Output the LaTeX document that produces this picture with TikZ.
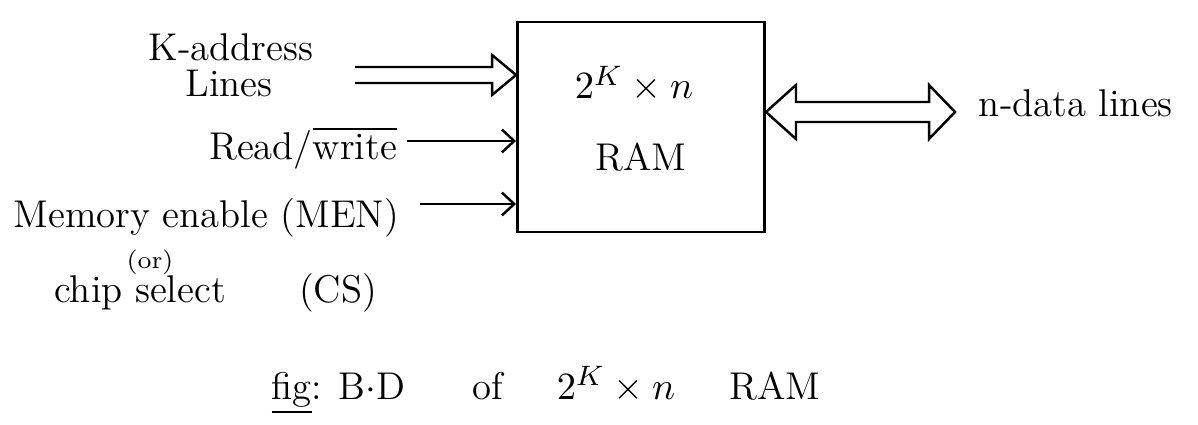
\documentclass[tikz,border=0pt]{standalone}
\usepackage{xcolor}
\usepackage{tikz}
\usetikzlibrary{arrows.meta, positioning}

\begin{document}
\begin{tikzpicture}[x=0.01cm, y=-0.01cm, line width=0.7pt,
        font=\fontsize{11}{13}\selectfont,
        >={Straight Barb[length=3.5pt, width=6.5pt]},
        block/.style={draw, line width=0.8pt, minimum width=2.47cm, minimum height=2.1cm},
        bus/.style={line join=miter}]
        \useasboundingbox (0,0) rectangle (1198,425);

        \node[block] (ram) at (641,127) {};
        \node (size) at (634,84) {$2^{K} \times n$};
        \node (name) at (641,157) {RAM};

        \node (kaddr) at (231,47) {K-address};
        \node (lines) at (229,83) {Lines};
        \node[anchor=east] (rw) at (410,148) {Read/$\overline{\mbox{write}}$};
        \node[anchor=east] (men) at (412,218) {Memory enable (MEN)};
        \node (or) at (150,262) {\scriptsize (or)};
        \node (cs) at (140,293) {chip select};
        \node (csabbr) at (338,293) {(CS)};
        \node[anchor=west] (data) at (966,103) {n-data lines};
        \node (cap) at (546,390) {\underline{fig}: B$\cdot$D\hspace{1.4em} of\hspace{1.4em}$2^{K} \times n$\hspace{1.4em}RAM};

        \coordinate (addrin) at (355,75);
        \coordinate (addrtip) at (addrin -| ram.west);
        \coordinate (rwin) at (407,141);
        \coordinate (menin) at (420,204);
        \coordinate (dataout) at (955,112);
        \coordinate (datatip) at (dataout -| ram.east);

        % hollow bus arrow, address lines
        \draw[bus] ([shift={(0,-8)}]addrin) -- ([shift={(-24,-8)}]addrtip) -- ++(0,-12)
            -- (addrtip) -- ([shift={(-24,20)}]addrtip) -- ++(0,-12) -- ([shift={(0,8)}]addrin);
        \draw[->] (rwin) -- (rwin -| ram.west);
        \draw[->] (menin) -- (menin -| ram.west);
        % hollow bus arrow, both ways, data lines
        \draw[bus] (datatip) -- ([shift={(30,-27)}]datatip) -- ++(0,17)
            -- ([shift={(-26,-10)}]dataout) -- ++(0,-17) -- (dataout)
            -- ([shift={(-26,27)}]dataout) -- ++(0,-17)
            -- ([shift={(30,10)}]datatip) -- ++(0,17) -- cycle;

    \end{tikzpicture}
\end{document}
